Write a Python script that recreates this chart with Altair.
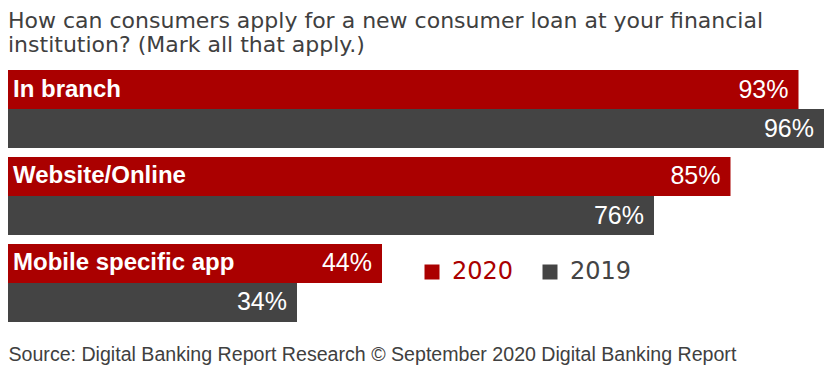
import altair as alt
import pandas as pd

categories = ["In branch", "Website/Online", "Mobile specific app"]
years = ["2020", "2019"]
values_2020 = [93, 85, 44]
values_2019 = [96, 76, 34]

title_lines = [
    "How can consumers apply for a new consumer loan at your financial",
    "institution? (Mark all that apply.)",
]
source_text = "Source: Digital Banking Report Research \u00a9 September 2020 Digital Banking Report"

RED = "#AA0000"
GREY = "#444444"

rows = []
for c, v20, v19 in zip(categories, values_2020, values_2019):
    rows.append({"category": c, "year": "2020", "value": v20, "label": f"{v20}%"})
    rows.append({"category": c, "year": "2019", "value": v19, "label": f"{v19}%"})
df = pd.DataFrame(rows)

y_enc = alt.Y("category:N", sort=categories, axis=None,
              scale=alt.Scale(paddingInner=0.1034, paddingOuter=0))
yoff_enc = alt.YOffset("year:N", sort=years, scale=alt.Scale(paddingInner=0.0, paddingOuter=0))

base = alt.Chart(df).encode(y=y_enc, yOffset=yoff_enc)

bars = base.mark_bar().encode(
    x=alt.X("value:Q", scale=alt.Scale(domain=[0, 96], nice=False, zero=True),
            axis=alt.Axis(labels=False, ticks=False, domain=False, grid=False,
                          title=source_text, titleX=0, titleY=38, titleAlign="left",
                          titleBaseline="alphabetic", titleFont="Liberation Sans",
                          titleFontSize=19.6, titleFontWeight="normal", titleColor="#404040")),
    color=alt.Color("year:N", scale=alt.Scale(domain=years, range=[RED, GREY]),
                    legend=alt.Legend(orient="none", legendX=412, legendY=190,
                                      direction="horizontal", title=None,
                                      symbolType="square", symbolSize=225,
                                      symbolOpacity=1, symbolStrokeWidth=0,
                                      labelFontSize=24, labelFont="DejaVu Sans",
                                      labelOffset=8, columnPadding=24,
                                      labelColor=alt.ExprRef("datum.label == '2020' ? '%s' : '%s'" % (RED, GREY)))),
)

pct = base.mark_text(align="right", baseline="middle", dx=-10, color="white",
                     fontSize=25, font="Liberation Sans").encode(
    x=alt.X("value:Q"), text="label:N")

names = base.transform_filter(alt.datum.year == "2020").mark_text(
    align="left", baseline="middle", dx=5, color="white", fontSize=24,
    fontWeight="bold", font="Liberation Sans").encode(
    x=alt.datum(0), text="category:N")

chart = alt.layer(bars, pct, names).properties(
    width=816, height=252,
    title=alt.TitleParams(text=title_lines, anchor="start", fontSize=22,
                          font="DejaVu Sans", fontWeight="normal",
                          color="#404040", lineHeight=24, offset=13),
    padding={"left": 0, "top": 62, "right": 1, "bottom": 44},
    autosize=alt.AutoSizeParams(type="none"),
).configure_view(stroke=None)

chart.save("out.html", embed_options={"renderer": "svg", "actions": False})
